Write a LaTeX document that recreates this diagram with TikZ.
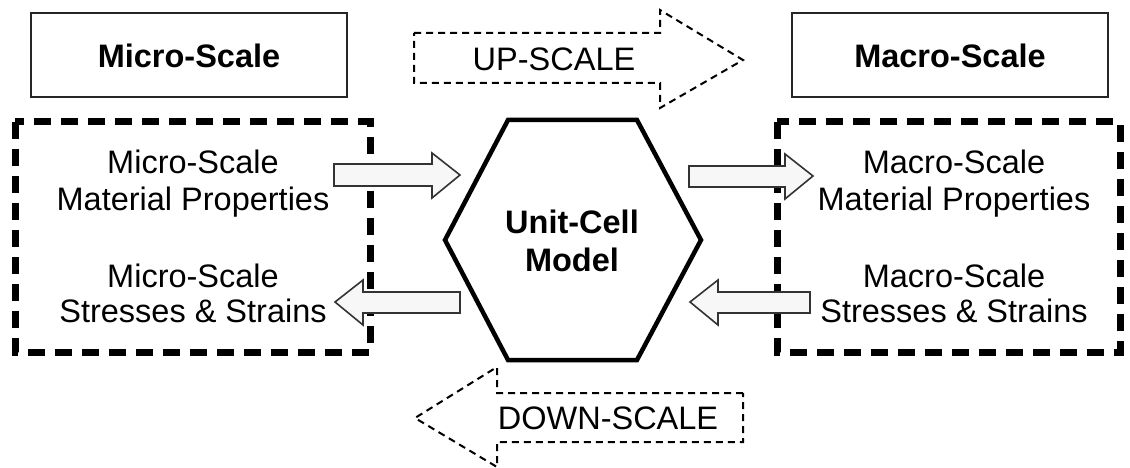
\documentclass[tikz,border=0pt]{standalone}
\usepackage{fontspec}
\setmainfont{Liberation Sans}
\begin{document}
\begin{tikzpicture}[x=1pt,y=-1pt,
  lbl/.style={font=\fontsize{32.5}{36}\selectfont, align=center, inner sep=0pt},
  bl/.style={font=\fontsize{32.5}{37}\selectfont\bfseries, align=center, inner sep=0pt},
  titlebox/.style={draw=black!85, line width=2pt},
  bigdash/.style={draw=black, line width=7pt, dash pattern=on 17pt off 10pt},
  thindash/.style={draw=black, line width=2pt, dash pattern=on 7pt off 5pt, fill=white, line join=miter},
  hollow/.style={draw=black!80, line width=1.6pt, fill=black!3, line join=miter},
  hexa/.style={draw=black, line width=4.5pt, line join=miter}]
\useasboundingbox (0,0) rectangle (1130,468);
% title boxes
\draw[titlebox] (31,13) rectangle (347,97);
\node[bl, anchor=base] (micro) at (189,68) {Micro-Scale};
\draw[titlebox] (792,13) rectangle (1108,97);
\node[bl, anchor=base] (macro) at (950,68) {Macro-Scale};
% dashed region boxes
\draw[bigdash] (15,122) rectangle (370,352);
\draw[bigdash] (777,122) rectangle (1120,352);
% up-scale arrow
\draw[thindash] (414,33) -- (660,33) -- (660,10) -- (743,60) -- (660,108) -- (660,83) -- (414,83) -- cycle;
\node[lbl, anchor=base] (up) at (554,71) {UP-SCALE};
% down-scale arrow
\draw[thindash] (743,393) -- (497,393) -- (497,367) -- (415,418) -- (497,467) -- (497,442) -- (743,442) -- cycle;
\node[lbl, anchor=base] (down) at (608,429) {DOWN-SCALE};
% hexagon
\draw[hexa] (508,120) -- (637,120) -- (701,240) -- (637,360) -- (508,360) -- (445,240) -- cycle;
\node[bl, anchor=base] (cell) at (572,233) {Unit-Cell};
\node[bl, anchor=base] (model) at (572,271) {Model};
% side texts
\node[lbl, anchor=base] (mmp1) at (193,173) {Micro-Scale};
\node[lbl, anchor=base] (mmp2) at (193,210) {Material Properties};
\node[lbl, anchor=base] (mss1) at (193,287) {Micro-Scale};
\node[lbl, anchor=base] (mss2) at (193,322) {Stresses \& Strains};
\node[lbl, anchor=base] (Mmp1) at (954,173) {Macro-Scale};
\node[lbl, anchor=base] (Mmp2) at (954,210) {Material Properties};
\node[lbl, anchor=base] (Mss1) at (954,287) {Macro-Scale};
\node[lbl, anchor=base] (Mss2) at (954,322) {Stresses \& Strains};
% hollow arrows
\draw[hollow] (334,164) -- (432,164) -- (432,153) -- (460,175) -- (432,198) -- (432,186) -- (334,186) -- cycle;
\draw[hollow] (460,292) -- (363,292) -- (363,280) -- (335,302) -- (363,325) -- (363,313) -- (460,313) -- cycle;
\draw[hollow] (689,166) -- (785,166) -- (785,154) -- (813,176) -- (785,199) -- (785,187) -- (689,187) -- cycle;
\draw[hollow] (810,292) -- (718,292) -- (718,280) -- (690,302) -- (718,325) -- (718,313) -- (810,313) -- cycle;
\end{tikzpicture}
\end{document}
